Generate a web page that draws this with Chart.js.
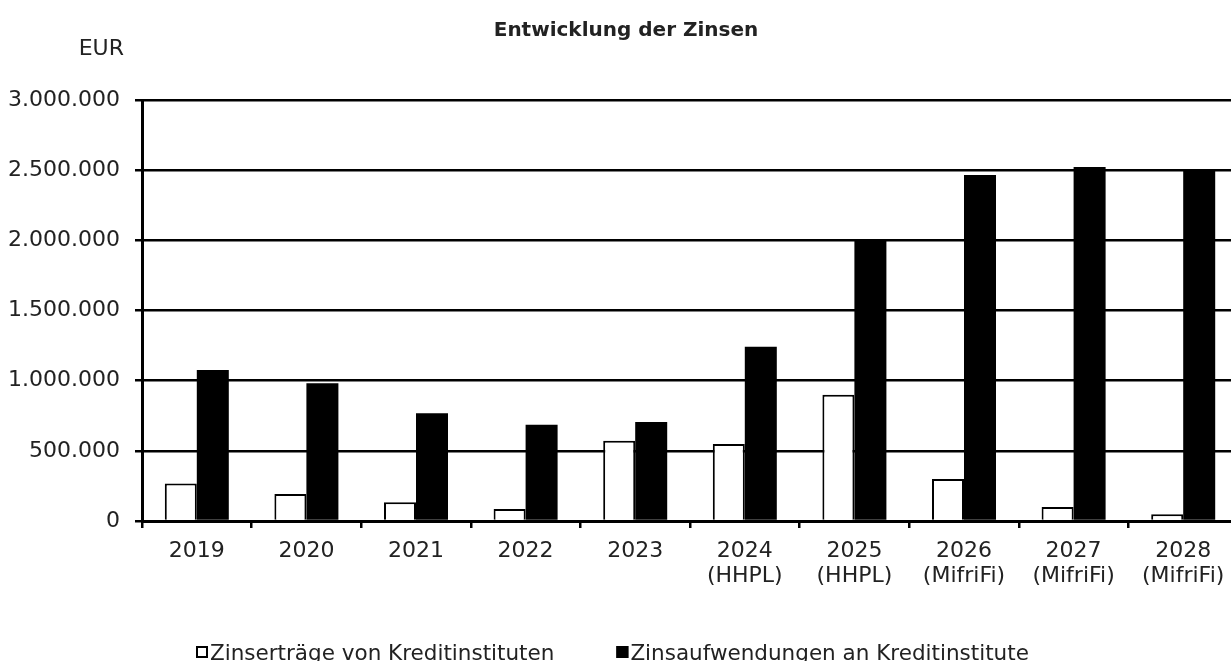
<!DOCTYPE html>
<html>
<head>
<meta charset="utf-8">
<script src="https://cdn.jsdelivr.net/npm/chart.js@4.4.1/dist/chart.umd.min.js"></script>
<style>
  html, body { margin: 0; padding: 0; background: #fff; overflow: hidden; }
  #wrap { width: 1240px; height: 661px; }
</style>
</head>
<body>
<div id="wrap"><canvas id="zinsChart" width="1240" height="661"></canvas></div>
<script>
// Werte (EUR)
const titleText = 'Entwicklung der Zinsen';
const unitText = 'EUR';
const years = [
  '2019', '2020', '2021', '2022', '2023',
  ['2024', '(HHPL)'], ['2025', '(HHPL)'],
  ['2026', '(MifriFi)'], ['2027', '(MifriFi)'], ['2028', '(MifriFi)']
];
const ertraege = [268000, 192000, 133000, 86000, 572000, 549000, 900000, 299000, 100000, 48000];
const aufwendungen = [1076000, 981000, 767000, 686000, 705000, 1242000, 2000000, 2466000, 2523000, 2505000];
const seriesNames = ['Zinserträge von Kreditinstituten', 'Zinsaufwendungen an Kreditinstitute'];
const yTicks = [0, 500000, 1000000, 1500000, 2000000, 2500000, 3000000];

const textColor = '#222222';
const fontFamily = '"DejaVu Sans", sans-serif';

function formatDE(v) {
  return String(v).replace(/\B(?=(\d{3})+(?!\d))/g, '.');
}

// Titel, Einheit und Legende direkt auf die Leinwand
const textPlugin = {
  id: 'texts',
  afterDraw(chart) {
    const ctx = chart.ctx;
    ctx.save();
    ctx.fillStyle = textColor;
    ctx.textBaseline = 'alphabetic';

    ctx.font = 'bold 20px ' + fontFamily;
    ctx.textAlign = 'center';
    ctx.fillText(titleText, 626, 36);

    ctx.font = '22px ' + fontFamily;
    ctx.textAlign = 'right';
    ctx.fillText(unitText, 124, 55);

    ctx.font = '21.5px ' + fontFamily;
    ctx.textAlign = 'left';
    let x = 196;
    chart.data.datasets.forEach((ds) => {
      ctx.fillStyle = ds.backgroundColor;
      ctx.fillRect(x, 646, 12, 12);
      ctx.strokeStyle = '#000';
      ctx.lineWidth = 2;
      ctx.strokeRect(x + 1, 647, 10, 10);
      ctx.fillStyle = textColor;
      ctx.fillText(ds.label, x + 14, 660);
      x += 14 + ctx.measureText(ds.label).width + 62;
    });
    ctx.restore();
  }
};

const ctx = document.getElementById('zinsChart').getContext('2d');
new Chart(ctx, {
  type: 'bar',
  data: {
    labels: years,
    datasets: [
      {
        label: seriesNames[0],
        data: ertraege,
        backgroundColor: '#ffffff',
        borderColor: '#000000',
        borderWidth: 2,
        categoryPercentage: 0.584,
        barPercentage: 1.0
      },
      {
        label: seriesNames[1],
        data: aufwendungen,
        backgroundColor: '#000000',
        borderColor: '#000000',
        borderWidth: 0,
        categoryPercentage: 0.584,
        barPercentage: 1.0
      }
    ]
  },
  options: {
    responsive: false,
    animation: false,
    devicePixelRatio: 1,
    layout: { padding: { top: 100, right: 2, left: 0, bottom: 0 } },
    plugins: {
      legend: { display: false },
      title: { display: false },
      tooltip: { enabled: false }
    },
    scales: {
      x: {
        offset: true,
        grid: {
          offset: true,
          drawOnChartArea: false,
          drawTicks: true,
          tickLength: 7,
          color: '#000',
          lineWidth: 2.5
        },
        border: { display: true, color: '#000', width: 3 },
        ticks: {
          color: textColor,
          padding: 11,
          maxRotation: 0,
          autoSkip: false,
          font: { family: fontFamily, size: 22, lineHeight: 1.14 }
        },
        afterFit: (axis) => { axis.height = 140; }
      },
      y: {
        min: 0,
        max: 3000000,
        afterBuildTicks: (axis) => { axis.ticks = yTicks.map(v => ({ value: v })); },
        grid: {
          color: '#000',
          lineWidth: 2.5,
          tickLength: 7,
          drawTicks: true
        },
        border: { display: true, color: '#000', width: 3 },
        ticks: {
          color: textColor,
          padding: 15,
          font: { family: fontFamily, size: 22 },
          callback: (v) => formatDE(v)
        },
        afterFit: (axis) => { axis.width = 142; }
      }
    }
  },
  plugins: [textPlugin]
});
</script>
</body>
</html>
